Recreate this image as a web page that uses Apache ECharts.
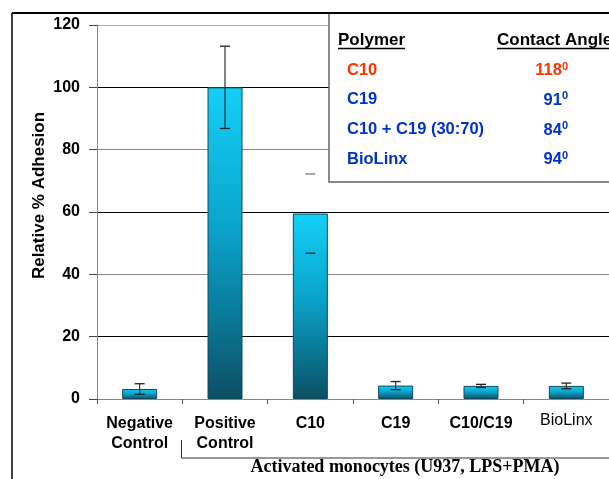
<!DOCTYPE html>
<html><head><meta charset="utf-8">
<script src="https://cdn.jsdelivr.net/npm/echarts@6/dist/echarts.min.js"></script>
<style>html,body{margin:0;padding:0;background:#fff}#c{width:609px;height:479px}</style>
</head><body><div id="c"></div>
<script>
var categories = ['Negative\nControl', 'Positive\nControl', 'C10', 'C19', 'C10/C19', 'BioLinx'];
var adhesion = [3.2, 100, 59.5, 4.3, 4.2, 4.2];
var adhesionErr = [1.7, 13.2, 12.7, 1.3, 0.5, 0.9];
var showStem = [true, true, false, true, true, true];
var yTicks = [0, 20, 40, 60, 80, 100, 120];
var polymers = ['C10', 'C19', 'C10 + C19 (30:70)', 'BioLinx'];
var angles = ['118', '91', '84', '94'];
var polymerColors = ['#ff3300', '#0033cc', '#0033cc', '#0033cc'];

var chart = echarts.init(document.getElementById('c'));
var grad = new echarts.graphic.LinearGradient(0, 0, 0, 1, [
  {offset: 0, color: '#14cff7'},
  {offset: 0.45, color: '#0aa4cb'},
  {offset: 0.75, color: '#0b7796'},
  {offset: 1, color: '#0c4f64'}
]);

var errData = adhesion.map(function (v, i) { return [i, v, adhesionErr[i], showStem[i] ? 1 : 0]; });

var tableGraphics = [];
tableGraphics.push({type: 'rect', shape: {x: 329, y: 13, width: 300, height: 169}, style: {fill: '#fff', stroke: '#666', lineWidth: 1.5}, z: 100});
tableGraphics.push({type: 'text', x: 338, y: 40, style: {text: 'Polymer', font: 'bold 17px "Liberation Sans", Arial', fill: '#000', verticalAlign: 'middle'}, z: 101});
tableGraphics.push({type: 'line', shape: {x1: 338, y1: 48.5, x2: 405, y2: 48.5}, style: {stroke: '#000', lineWidth: 1.3}, z: 101});
tableGraphics.push({type: 'text', x: 497, y: 40, style: {text: 'Contact Angle', font: 'bold 17px "Liberation Sans", Arial', fill: '#000', verticalAlign: 'middle'}, z: 101});
tableGraphics.push({type: 'line', shape: {x1: 497, y1: 48.5, x2: 609, y2: 48.5}, style: {stroke: '#000', lineWidth: 1.3}, z: 101});
polymers.forEach(function (p, i) {
  var y = 70 + i * 29.8;
  tableGraphics.push({type: 'text', x: 347, y: y, style: {text: p, font: 'bold 16.5px "Liberation Sans", Arial', fill: polymerColors[i], verticalAlign: 'middle'}, z: 101});
  tableGraphics.push({type: 'text', x: 568, y: y, style: {
    text: '{n|' + angles[i] + '}{s|0}', align: 'right', verticalAlign: 'middle',
    rich: {
      n: {font: 'bold 16.5px "Liberation Sans", Arial', fill: polymerColors[i], lineHeight: 18, verticalAlign: 'bottom'},
      s: {font: 'bold 11px "Liberation Sans", Arial', fill: polymerColors[i], lineHeight: 18, verticalAlign: 'top'}
    }}, z: 101});
});

var option = {
  animation: false,
  backgroundColor: '#fff',
  grid: {left: 97, top: 25, bottom: 80, width: 512},
  xAxis: {
    type: 'category', data: categories,
    axisLine: {lineStyle: {color: '#888', width: 1}},
    axisTick: {show: true, length: 5, lineStyle: {color: '#555'}},
    axisLabel: {
      interval: 0, margin: 15, lineHeight: 19.5, color: '#000',
      fontFamily: '"Liberation Sans", Arial', fontWeight: 'bold', fontSize: 16,
      formatter: function (v) { return v === 'BioLinx' ? '{r|' + v + '}' : v; },
      rich: {r: {fontWeight: 'normal', fontSize: 16, fontFamily: '"Liberation Sans", Arial', color: '#000', padding: [0, 0, 6, 0]}}
    }
  },
  yAxis: {
    type: 'value', min: 0, max: 120, interval: 20,
    axisLine: {show: true, lineStyle: {color: '#888'}},
    axisTick: {show: true, length: 8, lineStyle: {color: '#444'}},
    axisLabel: {margin: 17, color: '#000', fontFamily: '"Liberation Sans", Arial', fontWeight: 'bold', fontSize: 16,
      formatter: function (v) { return yTicks.indexOf(v) >= 0 ? String(v) : ''; }},
    splitLine: {show: true, lineStyle: {color: ['#888', '#000', '#888', '#000', '#888', '#000', '#aaa'], width: 1.2}}
  },
  series: [
    {type: 'bar', data: adhesion, barWidth: 35,
      itemStyle: {color: grad, borderColor: '#12485a', borderWidth: 1}, z: 2},
    {type: 'custom', data: errData, z: 3,
      renderItem: function (params, api) {
        var x = api.value(0), v = api.value(1), e = api.value(2), stem = api.value(3);
        var top = api.coord([x, v + e]), bot = api.coord([x, v - e]);
        var cw = 5;
        var ch = [
          {type: 'line', shape: {x1: top[0] - cw, y1: top[1], x2: top[0] + cw, y2: top[1]}, style: {stroke: stem ? '#222' : '#777', lineWidth: 1.3}},
          {type: 'line', shape: {x1: bot[0] - cw, y1: bot[1], x2: bot[0] + cw, y2: bot[1]}, style: {stroke: '#222', lineWidth: 1.3}}
        ];
        if (stem) ch.push({type: 'line', shape: {x1: top[0], y1: top[1], x2: bot[0], y2: bot[1]}, style: {stroke: '#333', lineWidth: 1.2}});
        return {type: 'group', children: ch};
      }}
  ],
  graphic: tableGraphics.concat([
    {type: 'text', x: 39, y: 195.5, rotation: Math.PI / 2, style: {text: 'Relative % Adhesion', font: 'bold 17px "Liberation Sans", Arial', fill: '#000', align: 'center', verticalAlign: 'middle'}, z: 110},
    {type: 'line', shape: {x1: 12, y1: 13, x2: 609, y2: 13}, style: {stroke: '#000', lineWidth: 1.8}, z: 110},
    {type: 'line', shape: {x1: 12, y1: 13, x2: 12, y2: 479}, style: {stroke: '#000', lineWidth: 1.5}, z: 110},
    {type: 'polyline', shape: {points: [[181.5, 440], [181.5, 458], [609, 458]]}, style: {stroke: '#333', lineWidth: 1, fill: null}, z: 110},
    {type: 'text', x: 405, y: 467.5, style: {text: 'Activated monocytes (U937, LPS+PMA)', font: 'bold 18px "Liberation Serif", "Times New Roman", serif', fill: '#000', align: 'center', verticalAlign: 'middle'}, z: 110}
  ])
};
chart.setOption(option);
</script></body></html>
